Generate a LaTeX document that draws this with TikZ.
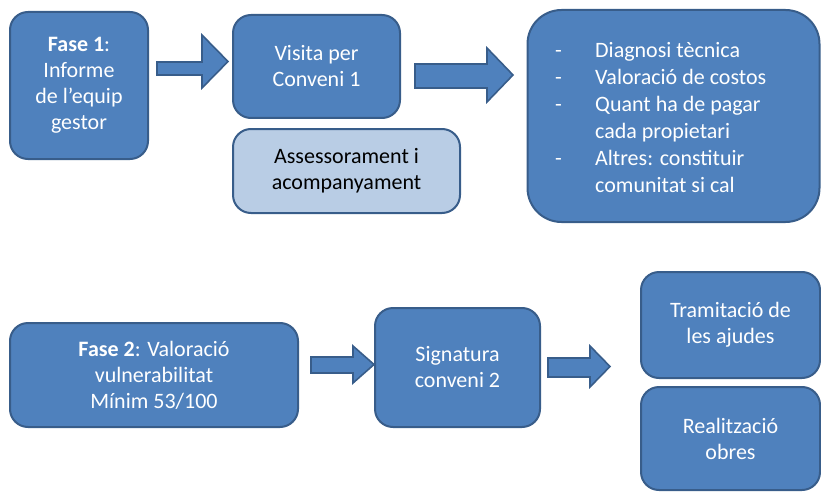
\documentclass[tikz,border=0pt]{standalone}
\usepackage{fontspec}
\setmainfont{Carlito}
\usepackage{array}
\definecolor{boxfill}{HTML}{4F81BD}
\definecolor{boxline}{HTML}{385D8A}
\definecolor{lightfill}{HTML}{B9CDE5}
\begin{document}
\begin{tikzpicture}[x=1pt,y=-1pt,
  bluebox/.style={draw=boxline, fill=boxfill, line width=2pt, rounded corners=18pt,
    text=white, align=center, inner sep=0pt, font=\fontsize{22}{26}\selectfont},
  lightbox/.style={bluebox, fill=lightfill, text=black},
  blockarrow/.style={draw=boxline, fill=boxfill, line width=1.6pt, line join=miter}
]
\useasboundingbox (0,0) rectangle (821,492);
\node[bluebox, minimum width=138pt, minimum height=147pt] (A) at (79,85.5)
  {\textbf{Fase 1}:\\Informe\\de l’equip\\gestor};
\node[bluebox, minimum width=167pt, minimum height=103pt] (B) at (316.5,66.5)
  {Visita per\\Conveni 1};
\node[lightbox, minimum width=227pt, minimum height=84pt] (C) at (346.5,171)
  {Assessorament i\\acompanyament};
\node[bluebox, rounded corners=34pt, minimum width=292pt, minimum height=212pt] (D) at (673.5,116) {};
\node[text=white, inner sep=0pt, anchor=base west, font=\fontsize{22}{27}\selectfont] (Dt) at (555,57.5)
  {\begin{tabular}[t]{@{}p{40pt}@{}l@{}}
  -& Diagnosi tècnica\\
  -& Valoració de costos\\
  -& Quant ha de pagar\\
   & cada propietari\\
  -& Altres: constituir\\
   & comunitat si cal
  \end{tabular}};
\node[bluebox, minimum width=288pt, minimum height=104pt] (E) at (154,375)
  {\textbf{Fase 2}: Valoració\\vulnerabilitat\\Mínim 53/100};
\node[bluebox, minimum width=165pt, minimum height=119pt] (F) at (457.5,367.5)
  {Signatura\\conveni 2};
\node[bluebox, minimum width=179pt, minimum height=106pt] (G) at (730.5,325)
  {Tramitació de\\les ajudes};
\node[bluebox, minimum width=179pt, minimum height=103pt] (H) at (730.5,438.5)
  {Realització\\obres};
% block arrows
\draw[blockarrow] (157,62) -- (202,62) -- (202,35) -- (228,61.5) -- (202,88) -- (202,75) -- (157,75) -- cycle;
\draw[blockarrow] (415,64) -- (487,64) -- (487,48) -- (513,75) -- (487,102) -- (487,88) -- (415,88) -- cycle;
\draw[blockarrow] (311,357) -- (353,357) -- (353,346) -- (374,364.5) -- (353,383) -- (353,373) -- (311,373) -- cycle;
\draw[blockarrow] (548,358) -- (590,358) -- (590,346) -- (610,366.5) -- (590,387) -- (590,377) -- (548,377) -- cycle;
\end{tikzpicture}
\end{document}
